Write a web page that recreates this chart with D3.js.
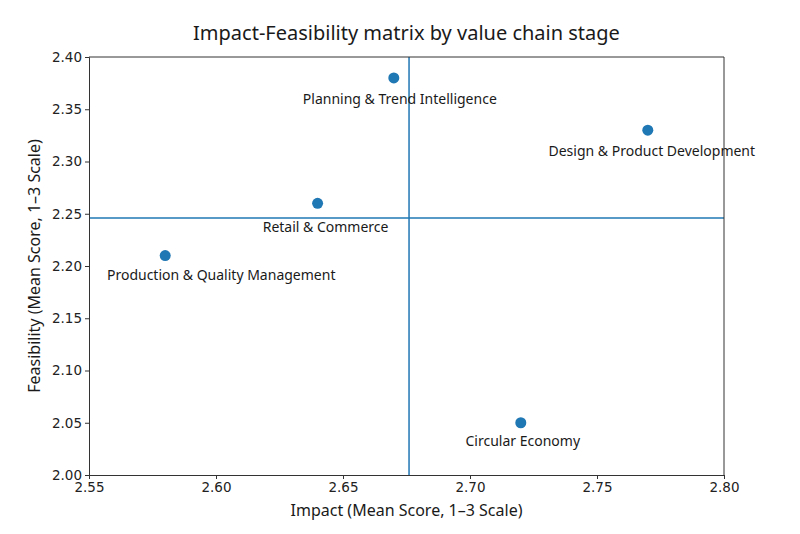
<!DOCTYPE html>
<html>
<head>
<meta charset="utf-8">
<script src="https://cdn.jsdelivr.net/npm/d3@7"></script>
<style>
    body { margin: 0; background: #fff; }
    .tick text { font-family: "DejaVu Sans", sans-serif; font-size: 13.5px; fill: #222; }
    .tick line, .domain { stroke: #333; }
</style>
</head>
<body>
<div id="chart"></div>
<script>
// Chart data
const stages = ["Planning & Trend Intelligence", "Design & Product Development", "Retail & Commerce",
    "Production & Quality Management", "Circular Economy"];
const impact = [2.67, 2.77, 2.64, 2.58, 2.72];
const feasibility = [2.38, 2.33, 2.26, 2.21, 2.05];
const xTicks = [2.55, 2.60, 2.65, 2.70, 2.75, 2.80];
const yTicks = [2.00, 2.05, 2.10, 2.15, 2.20, 2.25, 2.30, 2.35, 2.40];

// Label nudges (pixels) so text doesn't sit on the marker
const labelShift = [[6, 26], [4, 26], [8, 29], [56, 24], [2, 23]];

const width = 800, height = 534;
const margin = { top: 57, right: 76, bottom: 59, left: 89 };
const innerW = width - margin.left - margin.right;
const innerH = height - margin.top - margin.bottom;
const blue = "#1f77b4";

const svg = d3.select("#chart").append("svg")
    .attr("width", width)
    .attr("height", height);

const g = svg.append("g").attr("transform", `translate(${margin.left},${margin.top})`);

const x = d3.scaleLinear().domain([2.55, 2.80]).range([0, innerW]);
const y = d3.scaleLinear().domain([2.00, 2.40]).range([innerH, 0]);

// Mean lines
const meanX = d3.mean(impact);
const meanY = d3.mean(feasibility);

g.append("line")
    .attr("x1", x(meanX)).attr("x2", x(meanX))
    .attr("y1", 0).attr("y2", innerH)
    .attr("stroke", blue).attr("stroke-width", 1.5);

g.append("line")
    .attr("x1", 0).attr("x2", innerW)
    .attr("y1", y(meanY)).attr("y2", y(meanY))
    .attr("stroke", blue).attr("stroke-width", 1.5);

// Points
const pts = stages.map((s, i) => ({ name: s, x: impact[i], y: feasibility[i], shift: labelShift[i] }));

g.selectAll(".pt")
    .data(pts)
    .enter().append("circle")
    .attr("class", "pt")
    .attr("cx", d => x(d.x))
    .attr("cy", d => y(d.y))
    .attr("r", 5.5)
    .attr("fill", blue);

g.selectAll(".lbl")
    .data(pts)
    .enter().append("text")
    .attr("class", "lbl")
    .attr("x", d => x(d.x) + d.shift[0])
    .attr("y", d => y(d.y) + d.shift[1])
    .attr("text-anchor", "middle")
    .style("font-family", "'Noto Sans', sans-serif")
    .style("font-size", "14px")
    .style("fill", "#1a1a1a")
    .text(d => d.name);

// Axes
g.append("g")
    .attr("transform", `translate(0,${innerH})`)
    .call(d3.axisBottom(x).tickValues(xTicks).tickFormat(d3.format(".2f")).tickSize(4).tickPadding(3));

g.append("g")
    .call(d3.axisLeft(y).tickValues(yTicks).tickFormat(d3.format(".2f")).tickSize(4).tickPadding(3));

// Top and right spines
g.append("line").attr("x1", 0).attr("x2", innerW).attr("y1", 0).attr("y2", 0).attr("stroke", "#333");
g.append("line").attr("x1", innerW).attr("x2", innerW).attr("y1", 0).attr("y2", innerH).attr("stroke", "#333");

// Titles
svg.append("text")
    .attr("x", margin.left + innerW / 2)
    .attr("y", 40)
    .attr("text-anchor", "middle")
    .style("font-family", "'Noto Sans', sans-serif")
    .style("font-size", "20px")
    .style("fill", "#1a1a1a")
    .text("Impact-Feasibility matrix by value chain stage");

svg.append("text")
    .attr("x", margin.left + innerW / 2)
    .attr("y", 516)
    .attr("text-anchor", "middle")
    .style("font-family", "'Noto Sans', sans-serif")
    .style("font-size", "16px")
    .style("fill", "#1a1a1a")
    .text("Impact (Mean Score, 1–3 Scale)");

svg.append("text")
    .attr("transform", `translate(40,${margin.top + innerH / 2}) rotate(-90)`)
    .attr("text-anchor", "middle")
    .style("font-family", "'Noto Sans', sans-serif")
    .style("font-size", "16px")
    .style("fill", "#1a1a1a")
    .text("Feasibility (Mean Score, 1–3 Scale)");
</script>
</body>
</html>
